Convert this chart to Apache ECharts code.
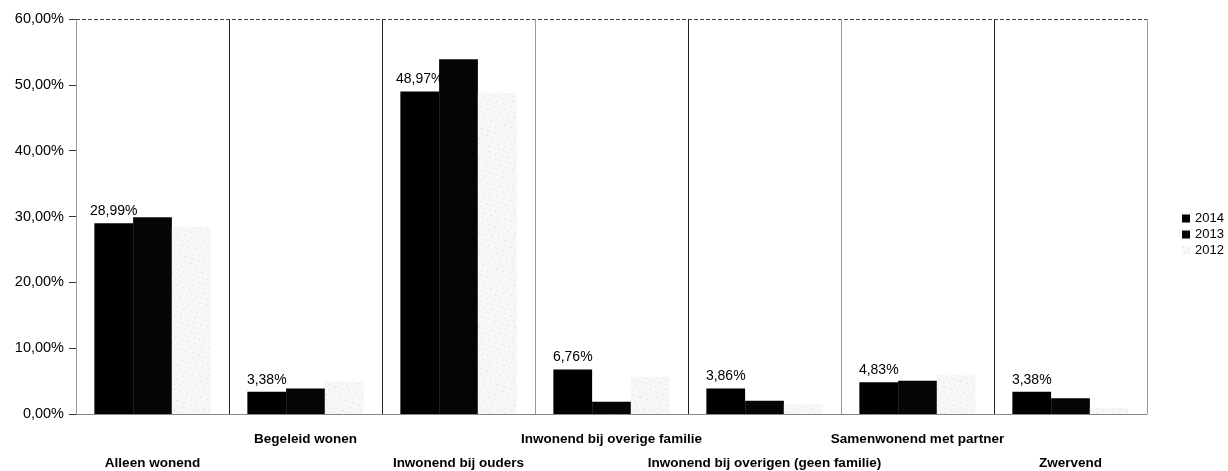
<!DOCTYPE html>
<html><head><meta charset="utf-8">
<script src="https://cdn.jsdelivr.net/npm/echarts@6/dist/echarts.min.js"></script>
<style>html,body{margin:0;padding:0;background:#fff}#c{width:1228px;height:471px}</style>
</head><body><div id="c"></div>
<script>
const categories = ['Alleen wonend','Begeleid wonen','Inwonend bij ouders','Inwonend bij overige familie','Inwonend bij overigen (geen familie)','Samenwonend met partner','Zwervend'];
const years = ['2014','2013','2012'];
const values2014 = [28.99, 3.38, 48.97, 6.76, 3.86, 4.83, 3.38];
const values2013 = [29.9, 3.86, 53.9, 1.87, 2.0, 5.06, 2.4];
const values2012 = [28.4, 4.9, 48.8, 5.67, 1.5, 5.9, 0.9];
const yTicks = {min: 0, max: 60, interval: 10};

const fmt = v => v.toFixed(2).replace('.', ',') + '%';
const FF = 'Liberation Sans, Arial, sans-serif';
const chart = echarts.init(document.getElementById('c'), null, {renderer: 'canvas'});
chart.setOption({
  animation: false,
  backgroundColor: '#fff',
  textStyle: {fontFamily: FF},
  grid: {left: 76, right: 81, top: 19, bottom: 57, containLabel: false, outerBoundsMode: 'none'},
  legend: {
    data: years, orient: 'vertical', left: 1177, top: 207,
    itemWidth: 8, itemHeight: 8, itemGap: 3, icon: 'rect',
    textStyle: {fontSize: 13, color: '#000', fontFamily: FF}
  },
  xAxis: {
    type: 'category', data: categories,
    axisLine: {show: true, lineStyle: {color: '#888', width: 1}},
    axisTick: {show: false},
    splitLine: {show: true, interval: 0, lineStyle: {color: ['#aaa','#222','#222','#999','#222','#999','#222','#999'], width: 1}},
    axisLabel: {
      interval: 0, margin: 13, fontSize: 13.5, fontWeight: 'bold', color: '#000',
      lineHeight: 24, fontFamily: FF,
      formatter: (v, i) => (i % 2 === 0 ? '\n' + v : v)
    }
  },
  yAxis: {
    type: 'value', min: yTicks.min, max: yTicks.max, interval: yTicks.interval,
    axisLine: {show: true, lineStyle: {color: '#999', type: 'dotted'}},
    axisTick: {show: true, length: 7, lineStyle: {color: '#333'}},
    splitLine: {show: true, lineStyle: {color: ['transparent','transparent','transparent','transparent','transparent','transparent','#444'], type: 'dashed'}},
    axisLabel: {margin: 12, fontSize: 14.5, color: '#000', fontFamily: FF, formatter: v => fmt(v)}
  },
  series: [
    {name: '2014', type: 'bar', data: values2014, barGap: '0%', barCategoryGap: '24%',
     itemStyle: {color: '#000'},
     label: {show: true, position: 'top', distance: 5, fontSize: 14, color: '#000', fontFamily: FF, formatter: p => fmt(p.value)}},
    {name: '2013', type: 'bar', data: values2013, itemStyle: {color: '#050505'}},
    {name: '2012', type: 'bar', data: values2012,
     itemStyle: {color: '#f7f7f7', decal: {symbol: 'rect', symbolSize: 0.6, color: '#a8a8a8', dashArrayX: [[1,4],[2,5]], dashArrayY: [1,4], rotation: 0.3}}}
  ]
});
</script></body></html>
